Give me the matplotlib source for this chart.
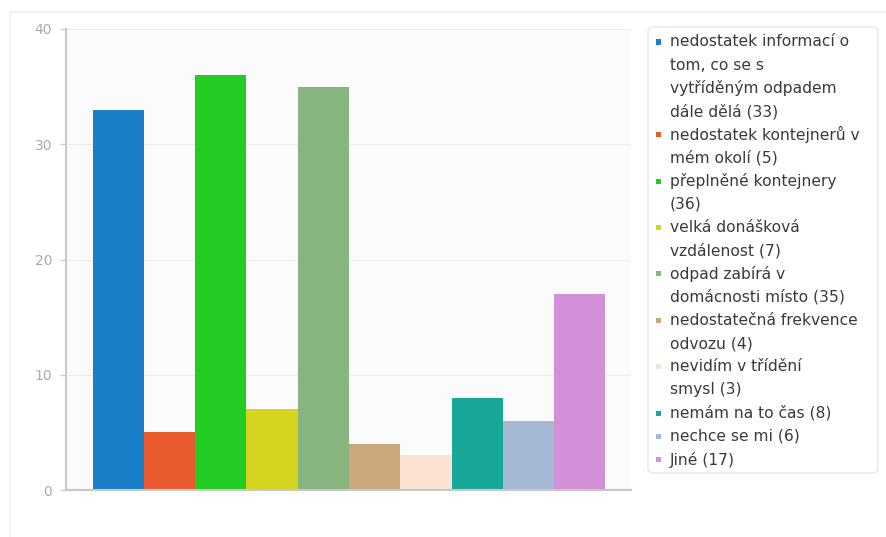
import matplotlib
matplotlib.use("Agg")
import matplotlib.pyplot as plt
from matplotlib.patches import FancyBboxPatch, Rectangle
from matplotlib.lines import Line2D

# Survey answers: obstacles to sorting household waste
categories = [
    "nedostatek informací o\ntom, co se s\nvytříděným odpadem\ndále dělá",
    "nedostatek kontejnerů v\nmém okolí",
    "přeplněné kontejnery\n",
    "velká donášková\nvzdálenost",
    "odpad zabírá v\ndomácnosti místo",
    "nedostatečná frekvence\nodvozu",
    "nevidím v třídění\nsmysl",
    "nemám na to čas",
    "nechce se mi",
    "Jiné",
]
values = [33, 5, 36, 7, 35, 4, 3, 8, 6, 17]
colors = ["#1A7FC9", "#EA5A2F", "#22CC22", "#D4D41E", "#86B57F",
          "#CBA77C", "#FAE3D3", "#18A89A", "#A6B9D4", "#D190D8"]
yticks = [0, 10, 20, 30, 40]

W, H = 886, 537
fig = plt.figure(figsize=(W / 100, H / 100), dpi=100)
fig.patch.set_facecolor("white")

def fx(px):
    return px / W

def fy(py):
    return 1 - py / H

# faint left/top edge of the chart container
fig.add_artist(Line2D([fx(10), fx(10), fx(886)], [0, fy(12), fy(12)],
                      transform=fig.transFigure, color="#f0f0f0", linewidth=1.2))

ax = fig.add_axes([fx(66), fy(490), fx(631) - fx(66), fy(29) - fy(490)])
ax.set_facecolor("#FBFBFB")

x = list(range(len(values)))
ax.bar(x, values, width=1.0, color=colors, edgecolor="none", zorder=2)

ax.set_xlim(-1.02, len(values))
ax.set_ylim(0, 40)
ax.set_yticks(yticks)
ax.set_yticklabels([str(t) for t in yticks])
ax.set_xticks([])
ax.grid(axis="y", color="#ececec", linewidth=0.8, zorder=0)
ax.tick_params(axis="y", colors="#cccccc", labelcolor="#aaaaaa",
               labelsize=10, length=4, width=1, pad=6, direction="out")
for side in ("top", "right"):
    ax.spines[side].set_visible(False)
for side in ("left", "bottom"):
    ax.spines[side].set_color("#c8c8c8")
    ax.spines[side].set_linewidth(1.5)

# legend panel
box = FancyBboxPatch((fx(648), fy(473)), fx(878) - fx(648), fy(27) - fy(473),
                     boxstyle="round,pad=0,rounding_size=0.008",
                     transform=fig.transFigure, facecolor="white",
                     edgecolor="#e8e8e8", linewidth=1.0)
fig.patches.append(box)

line_h = 23.2
y = 42
for label, val, col in zip(categories, values, colors):
    text = f"{label} ({val})" if not label.endswith("\n") else f"{label}({val})"
    lines = text.split("\n")
    fig.patches.append(Rectangle((fx(655.5), fy(y + 2.5)), fx(5), 5 / H,
                                 transform=fig.transFigure,
                                 facecolor=col, edgecolor="none"))
    for ln in lines:
        fig.text(fx(670), fy(y), ln, fontsize=11.2, color="#3a3a3a",
                 va="center", ha="left", family="DejaVu Sans")
        y += line_h

fig.savefig("out.png", dpi=100, facecolor="white")
